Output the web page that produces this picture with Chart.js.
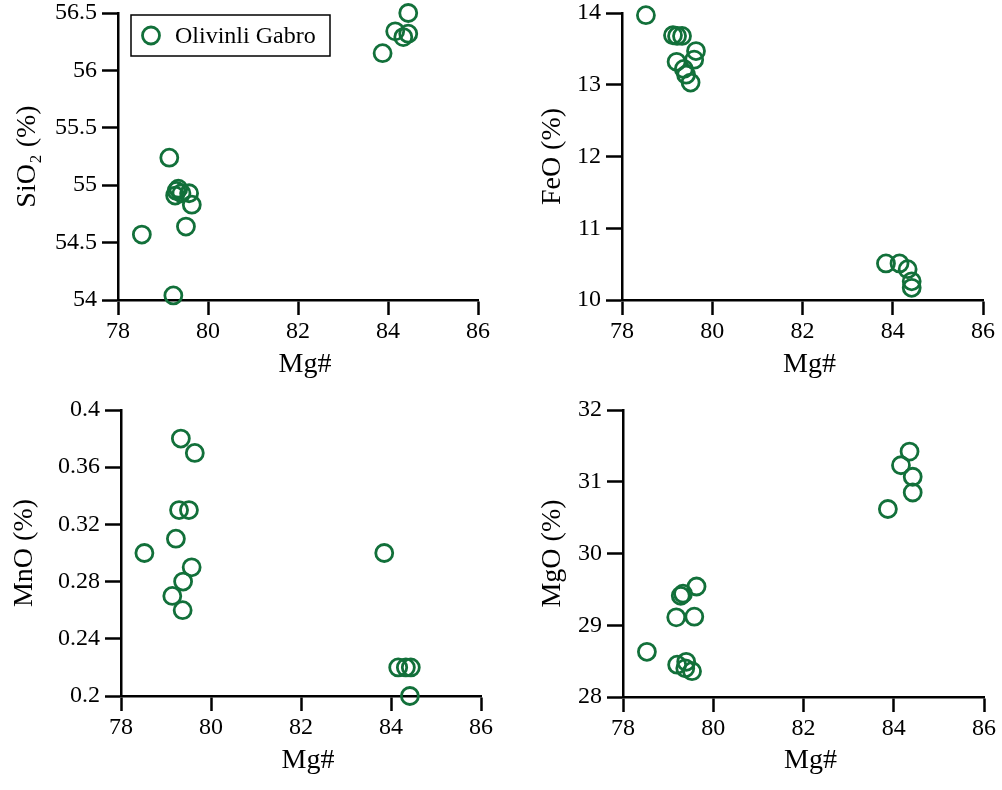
<!DOCTYPE html>
<html>
<head>
<meta charset="utf-8">
<script src="https://cdn.jsdelivr.net/npm/chart.js@4/dist/chart.umd.min.js"></script>
<style>
  html, body { margin: 0; padding: 0; background: #fff; }
  #wrap { position: relative; width: 1002px; height: 790px; background: #fff; }
  canvas { position: absolute; }
</style>
</head>
<body>
<div id="wrap">
  <canvas id="c1" width="501" height="395" style="left:0;top:0"></canvas>
  <canvas id="c2" width="501" height="395" style="left:501px;top:0"></canvas>
  <canvas id="c3" width="501" height="395" style="left:0;top:395px"></canvas>
  <canvas id="c4" width="501" height="395" style="left:501px;top:395px"></canvas>
</div>
<script>
// ---- Data ----
const seriesName = "Olivinli Gabro";
const xTitle = "Mg#";
const xTicks = [78, 80, 82, 84, 86];

const sio2Mg = [84.45, 84.16, 84.45, 84.34, 83.88, 79.14, 79.34, 79.27, 79.30, 79.41, 79.58, 79.64, 79.51, 78.53, 79.23];
const sio2Val = [56.50, 56.34, 56.32, 56.29, 56.15, 55.24, 54.97, 54.91, 54.95, 54.93, 54.93, 54.83, 54.64, 54.57, 54.04];
const sio2Ticks = [54, 54.5, 55, 55.5, 56, 56.5];

const feoMg = [78.53, 79.13, 79.22, 79.33, 79.64, 79.60, 79.21, 79.37, 79.42, 79.52, 83.85, 84.15, 84.33, 84.42, 84.42];
const feoVal = [13.97, 13.69, 13.68, 13.68, 13.47, 13.35, 13.32, 13.22, 13.14, 13.03, 10.51, 10.51, 10.43, 10.26, 10.17];
const feoTicks = [10, 11, 12, 13, 14];

const mnoMg = [79.33, 79.64, 79.29, 79.51, 79.22, 78.52, 79.57, 79.38, 79.14, 79.37, 83.85, 84.16, 84.33, 84.44, 84.42];
const mnoVal = [0.38, 0.37, 0.33, 0.33, 0.31, 0.30, 0.29, 0.28, 0.27, 0.26, 0.30, 0.22, 0.22, 0.22, 0.20];
const mnoTicks = [0.2, 0.24, 0.28, 0.32, 0.36, 0.4];

const mgoMg = [84.35, 84.16, 84.42, 84.42, 83.87, 79.63, 79.28, 79.33, 79.18, 79.58, 78.53, 79.20, 79.40, 79.38, 79.53];
const mgoVal = [31.42, 31.23, 31.07, 30.85, 30.62, 29.54, 29.41, 29.44, 29.11, 29.12, 28.63, 28.45, 28.49, 28.40, 28.36];
const mgoTicks = [28, 29, 30, 31, 32];

// ---- Styling ----
const GREEN = '#12703a';
const FONT = '"Liberation Serif", "Times New Roman", serif';

function pts(xs, ys) { return xs.map((x, i) => ({ x: x, y: ys[i] })); }

const legendPlugin = {
  id: 'boxLegend',
  afterDraw(chart, args, opts) {
    if (!opts || !opts.show) return;
    const ctx = chart.ctx;
    const ds = chart.data.datasets[0];
    ctx.save();
    ctx.strokeStyle = '#000';
    ctx.lineWidth = 1.5;
    ctx.strokeRect(opts.x, opts.y, opts.w, opts.h);
    ctx.beginPath();
    ctx.strokeStyle = ds.borderColor;
    ctx.lineWidth = ds.borderWidth;
    ctx.arc(opts.x + 20, opts.y + opts.h / 2, ds.pointRadius, 0, Math.PI * 2);
    ctx.stroke();
    ctx.fillStyle = '#000';
    ctx.font = '24px ' + FONT;
    ctx.textBaseline = 'middle';
    ctx.textAlign = 'left';
    ctx.fillText(ds.label, opts.x + 44, opts.y + opts.h / 2 + 1);
    ctx.restore();
  }
};

function makeChart(id, p) {
  const ctx = document.getElementById(id);
  return new Chart(ctx, {
    type: 'scatter',
    data: {
      datasets: [{
        label: seriesName,
        data: pts(p.xs, p.ys),
        borderColor: GREEN,
        backgroundColor: 'rgba(0,0,0,0)',
        borderWidth: 2.8,
        pointRadius: 8.5,
        pointHoverRadius: 8.5,
        clip: false
      }]
    },
    options: {
      responsive: false,
      animation: false,
      devicePixelRatio: 1,
      layout: { padding: { top: p.padTop, right: p.padRight, bottom: 0, left: 0 } },
      plugins: {
        legend: { display: false },
        tooltip: { enabled: false },
        boxLegend: p.legend || { show: false }
      },
      scales: {
        x: {
          type: 'linear',
          min: 78, max: 86,
          afterBuildTicks: (axis) => { axis.ticks = xTicks.map(v => ({ value: v })); },
          afterFit: (scale) => { scale.height = p.xHeight; scale.paddingLeft = 0; scale.paddingRight = 0; },
          grid: { drawOnChartArea: false, drawTicks: true, tickLength: 15, tickWidth: 2.5, tickColor: '#000' },
          border: { display: true, color: '#000', width: 2.5 },
          ticks: { color: '#000', font: { family: FONT, size: 24 }, padding: 2, maxRotation: 0, callback: (v) => String(v) },
          title: { display: true, text: '\u2002' + xTitle, color: '#000', font: { family: FONT, size: 28 }, padding: { top: 0, bottom: p.xTitlePad } }
        },
        y: {
          type: 'linear',
          min: p.yTicks[0], max: p.yTicks[p.yTicks.length - 1],
          afterBuildTicks: (axis) => { axis.ticks = p.yTicks.map(v => ({ value: v })); },
          afterFit: (scale) => { scale.width = p.yWidth; scale.paddingTop = 0; scale.paddingBottom = 0; },
          grid: { drawOnChartArea: false, drawTicks: true, tickLength: 16, tickWidth: 2.5, tickColor: '#000' },
          border: { display: true, color: '#000', width: 2.5 },
          ticks: { color: '#000', font: { family: FONT, size: 24 }, padding: 5, callback: (v) => String(v) },
          title: { display: true, text: p.yTitle, color: '#000', font: { family: FONT, size: 28 }, padding: { top: p.yTitlePad, bottom: 0 } }
        }
      }
    },
    plugins: [legendPlugin]
  });
}

makeChart('c1', { xs: sio2Mg, ys: sio2Val, yTicks: sio2Ticks, yTitle: 'SiO\u2082 (%)',
  yWidth: 118, padTop: 13, padRight: 23, xHeight: 95, yTitlePad: 11, xTitlePad: 14,
  legend: { show: true, x: 131, y: 15, w: 199, h: 41 } });
makeChart('c2', { xs: feoMg, ys: feoVal, yTicks: feoTicks, yTitle: 'FeO (%)',
  yWidth: 121, padTop: 13, padRight: 19, xHeight: 95, yTitlePad: 35, xTitlePad: 14 });
makeChart('c3', { xs: mnoMg, ys: mnoVal, yTicks: mnoTicks, yTitle: 'MnO (%)',
  yWidth: 121, padTop: 15, padRight: 20, xHeight: 94, yTitlePad: 8, xTitlePad: 13 });
makeChart('c4', { xs: mgoMg, ys: mgoVal, yTicks: mgoTicks, yTitle: 'MgO (%)',
  yWidth: 122, padTop: 15, padRight: 18, xHeight: 93, yTitlePad: 35, xTitlePad: 13 });
</script>
</body>
</html>
